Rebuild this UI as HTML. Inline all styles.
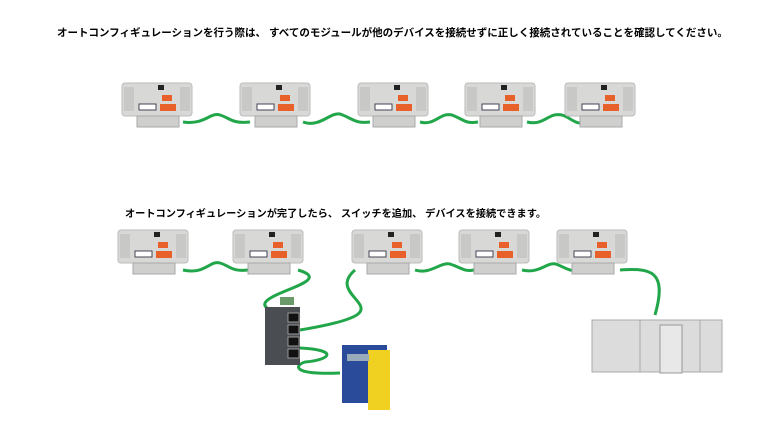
<!DOCTYPE html>
<html><head><meta charset="utf-8"><style>
body{margin:0;background:#fff;width:760px;height:428px;overflow:hidden;position:relative;font-family:"Liberation Sans","Noto Sans CJK JP",sans-serif}
.t{position:absolute;font-weight:bold;font-size:10.5px;color:#000;white-space:nowrap}
svg{position:absolute;left:0;top:0}
</style></head><body>
<div class="t" style="left:57px;top:25px">オートコンフィギュレーションを行う際は、 すべてのモジュールが他のデバイスを接続せずに正しく接続されていることを確認してください。</div>
<div class="t" style="left:125px;top:205px;font-size:10.2px">オートコンフィギュレーションが完了したら、 スイッチを追加、 デバイスを接続できます。</div>
<svg width="760" height="428" viewBox="0 0 760 428">
<defs>
<g id="m">
<rect x="0" y="0" width="70" height="33" rx="3" fill="#d8d8d6" stroke="#bbb"/>
<rect x="2" y="4" width="10" height="24" fill="#c8c8c6"/>
<rect x="58" y="4" width="10" height="24" fill="#c8c8c6"/>
<rect x="36" y="2" width="6" height="5" fill="#222"/>
<rect x="40" y="12" width="10" height="6" fill="#e8602a"/>
<rect x="38" y="21" width="16" height="7" fill="#e8602a"/>
<rect x="17" y="21" width="17" height="6" fill="#fff" stroke="#445"/>
<rect x="15" y="33" width="42" height="11" fill="#cfcfcd" stroke="#aaa"/>
</g>
</defs>
<g fill="none" stroke="#22a64a" stroke-width="3">
<path d="M183 122 C205 125,210 112,220 115 C230 118,232 124,250 122"/>
<path d="M303 122 C320 128,330 112,340 114 C352 118,355 124,370 122"/>
<path d="M420 122 C435 126,440 112,452 115 C465 120,465 124,478 122"/>
<path d="M527 122 C545 126,548 112,562 115 C572 118,575 126,588 122"/>
<path d="M183 270 C205 275,210 260,220 263 C230 266,232 272,248 270"/>
<path d="M298 270 C350 285,200 300,300 318"/>
<path d="M355 270 C320 300,420 310,300 330"/>
<path d="M415 270 C430 275,440 262,450 264 C462 268,465 272,474 270"/>
<path d="M522 270 C540 274,546 262,556 264 C566 268,570 272,578 270"/>
<path d="M620 270 C650 268,668 270,655 315"/>
<path d="M300 348 C340 350,330 360,305 362 C295 365,290 375,340 373"/>
</g>
<use href="#m" x="122" y="83"/><use href="#m" x="240" y="83"/><use href="#m" x="358" y="83"/><use href="#m" x="465" y="83"/><use href="#m" x="565" y="83"/>
<use href="#m" x="118" y="230"/><use href="#m" x="233" y="230"/><use href="#m" x="352" y="230"/><use href="#m" x="459" y="230"/><use href="#m" x="557" y="230"/>
<rect x="265" y="307" width="35" height="58" fill="#4a4e52"/>
<rect x="280" y="297" width="14" height="8" fill="#6a9a6a"/>
<g fill="#111" stroke="#999"><rect x="288" y="313" width="11" height="9"/><rect x="288" y="325" width="11" height="9"/><rect x="288" y="337" width="11" height="9"/><rect x="288" y="349" width="11" height="9"/></g>
<rect x="342" y="345" width="45" height="58" fill="#2a4a9a"/>
<rect x="368" y="350" width="22" height="60" fill="#f0d020"/>
<rect x="347" y="354" width="22" height="7" fill="#9ab"/>
<rect x="592" y="320" width="130" height="52" fill="#dcdcdc" stroke="#aaa"/>
<rect x="660" y="325" width="22" height="48" fill="#e8e8e8" stroke="#999"/>
<line x1="640" y1="320" x2="640" y2="372" stroke="#aaa"/>
<line x1="700" y1="320" x2="700" y2="372" stroke="#aaa"/>
</svg>
</body></html>
